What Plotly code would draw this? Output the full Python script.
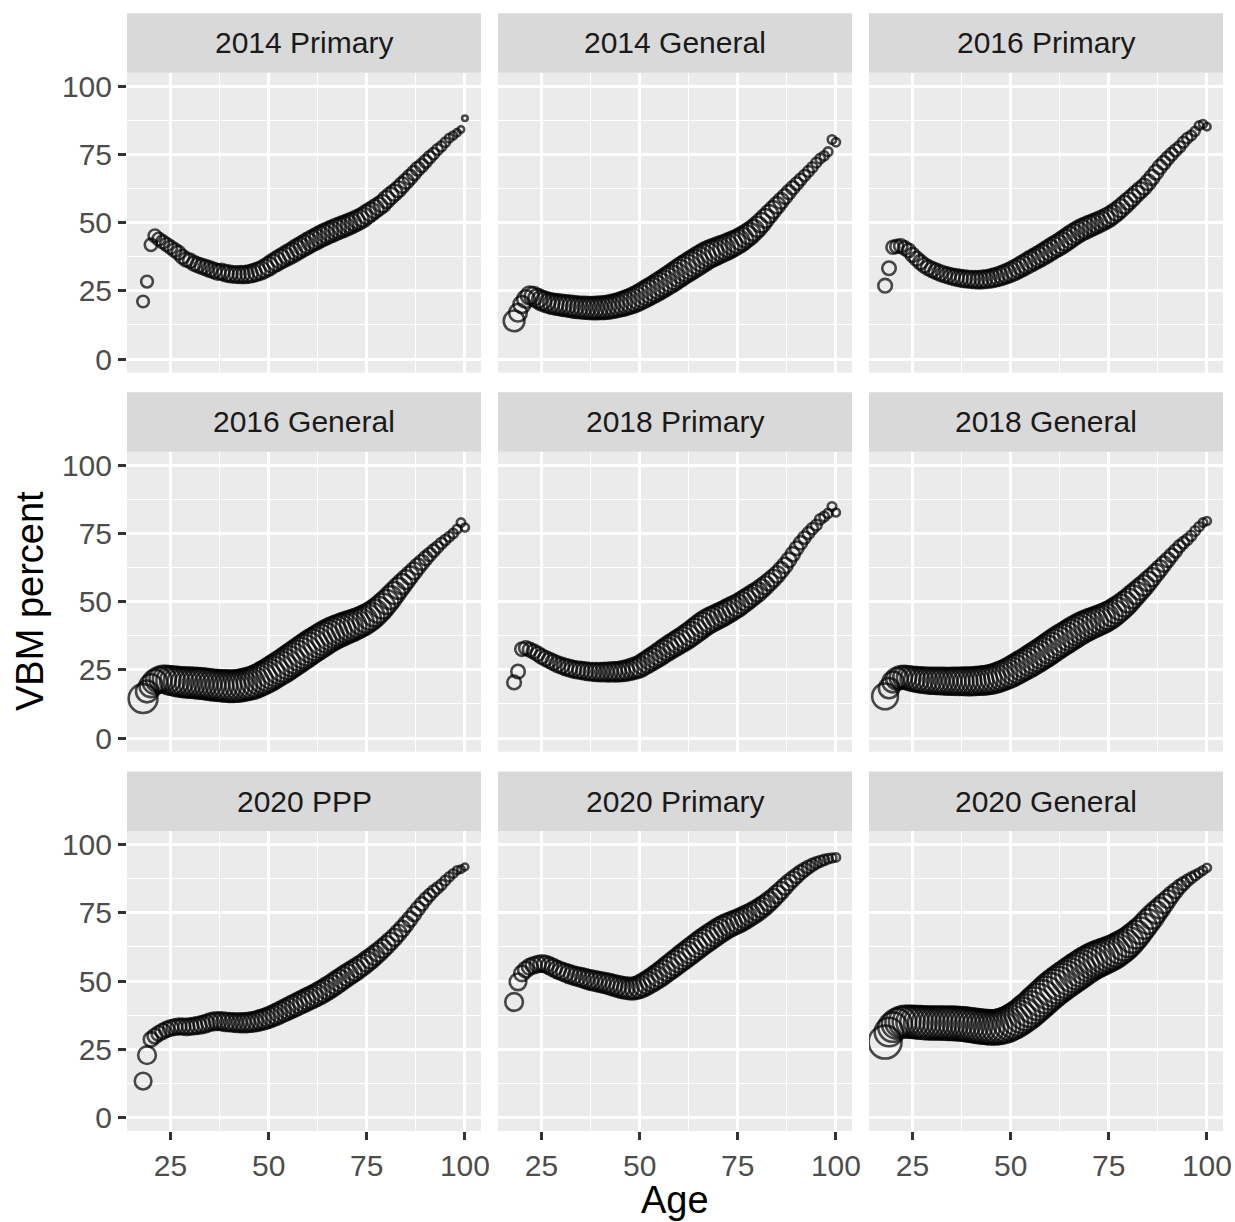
import math
import plotly.graph_objects as go

# ---------------------------------------------------------------------------
# Data: share of ballots cast by mail (VBM percent) by voter age, per election,
# plus ballots cast at each age (thousands) which drives the point size.
# ---------------------------------------------------------------------------
AGES = list(range(18, 101))

ELECTIONS = ["2014 Primary", "2014 General", "2016 Primary",
             "2016 General", "2018 Primary", "2018 General",
             "2020 PPP", "2020 Primary", "2020 General"]

vbm_2014_primary = [
    21.1, 28.4, 41.9, 45.2, 44.0, 43.0, 42.0,
    41.0, 40.0, 39.0, 37.5, 36.5, 36.0, 35.0, 34.5, 34.0, 33.5, 33.0,
    32.5, 32.0, 32.0, 31.5, 31.3, 31.0, 31.0, 31.0, 31.0, 31.2,
    31.5, 32.0, 32.5, 33.2, 34.0, 35.0, 35.8, 36.7, 37.5, 38.3,
    39.0, 40.0, 40.8, 41.6, 42.5, 43.3, 44.0, 44.8, 45.5, 46.2,
    46.8, 47.5, 48.0, 48.6, 49.2, 49.8, 50.5, 51.2, 52.0, 53.0,
    54.0, 55.0, 56.0, 57.0, 58.5, 59.8, 61.0, 62.3, 63.8, 65.2,
    66.7, 68.2, 69.8, 71.0, 72.5, 74.0, 75.3, 76.8, 78.0, 79.5,
    81.0, 82.0, 83.0, 84.2, 88.3]

vbm_2014_general = [
    14.0, 17.0, 20.0, 22.0, 23.3, 23.0, 22.2,
    21.5, 21.0, 20.5, 20.2, 20.0, 19.8, 19.6, 19.4, 19.2, 19.0, 18.9,
    18.8, 18.7, 18.7, 18.7, 18.8, 18.9, 19.0, 19.3, 19.6, 20.0,
    20.4, 20.9, 21.4, 22.0, 22.7, 23.5, 24.3, 25.1, 25.9, 26.8,
    27.7, 28.6, 29.5, 30.5, 31.5, 32.5, 33.4, 34.3, 35.2, 36.1,
    37.0, 37.9, 38.6, 39.2, 39.8, 40.4, 41.0, 41.7, 42.4, 43.1,
    44.0, 45.0, 46.0, 47.2, 48.5, 50.0, 51.6, 53.2, 54.8, 56.4,
    58.0, 59.6, 61.2, 62.8, 64.3, 65.8, 67.3, 68.8, 70.3, 72.0,
    73.5, 74.5, 76.0, 80.5, 79.5]

vbm_2016_primary = [
    26.9, 33.3, 41.0, 41.3, 41.5, 40.7, 39.8,
    38.2, 36.8, 35.5, 34.4, 33.5, 32.8, 32.2, 31.6, 31.1, 30.7, 30.3,
    30.0, 29.7, 29.5, 29.3, 29.2, 29.1, 29.1, 29.2, 29.3, 29.6,
    29.9, 30.3, 30.8, 31.3, 31.9, 32.6, 33.4, 34.2, 35.0, 35.8,
    36.6, 37.4, 38.2, 39.1, 40.0, 40.9, 41.7, 42.6, 43.6, 44.6,
    45.6, 46.5, 47.3, 48.0, 48.7, 49.3, 49.9, 50.6, 51.3, 52.1,
    53.0, 54.1, 55.3, 56.6, 57.9, 59.2, 60.6, 61.9, 63.2, 64.8,
    66.6, 68.5, 70.4, 72.0, 73.6, 75.1, 76.5, 77.8, 79.5, 81.0,
    82.0, 83.5, 85.6, 86.2, 85.2]

vbm_2016_general = [
    14.5, 17.1, 19.2, 20.6, 21.3, 21.6, 21.4,
    21.1, 20.9, 20.7, 20.5, 20.4, 20.3, 20.2, 20.1, 20.0, 19.8, 19.6,
    19.4, 19.3, 19.2, 19.1, 19.0, 19.0, 19.1, 19.3, 19.6, 19.9,
    20.3, 20.9, 21.6, 22.3, 23.1, 24.0, 24.9, 25.8, 26.7, 27.7,
    28.7, 29.7, 30.7, 31.7, 32.7, 33.7, 34.6, 35.5, 36.4, 37.3,
    38.1, 38.8, 39.4, 40.0, 40.6, 41.1, 41.7, 42.3, 43.0, 43.8,
    44.7, 45.8, 47.0, 48.4, 49.9, 51.5, 53.2, 54.9, 56.5, 58.1,
    59.7, 61.3, 62.9, 64.4, 65.9, 67.3, 68.7, 70.0, 71.4, 72.6,
    73.8, 75.0, 76.6, 79.0, 77.2]

vbm_2018_primary = [
    20.4, 24.4, 32.6, 33.0, 32.4, 31.7, 30.9,
    29.9, 29.2, 28.5, 27.8, 27.1, 26.6, 26.1, 25.7, 25.3, 25.0, 24.8,
    24.6, 24.4, 24.3, 24.2, 24.2, 24.2, 24.2, 24.3, 24.3, 24.4,
    24.6, 24.9, 25.3, 25.7, 26.2, 27.1, 28.0, 28.9, 29.8, 30.7,
    31.7, 32.7, 33.6, 34.5, 35.4, 36.3, 37.2, 38.2, 39.3, 40.4,
    41.5, 42.5, 43.3, 44.0, 44.7, 45.4, 46.2, 47.0, 47.8, 48.6,
    49.6, 50.6, 51.6, 52.6, 53.6, 54.8, 56.0, 57.3, 58.6, 60.0,
    61.6, 63.3, 65.3, 67.4, 69.6, 71.6, 73.5, 75.2, 76.8, 78.1,
    80.2, 81.2, 82.4, 84.9, 82.7]

vbm_2018_general = [
    15.3, 18.3, 20.6, 21.8, 22.3, 22.3, 22.0,
    21.7, 21.5, 21.3, 21.2, 21.1, 21.0, 21.0, 20.9, 20.9, 20.8, 20.8,
    20.8, 20.8, 20.8, 20.8, 20.8, 20.9, 21.0, 21.1, 21.3, 21.5,
    21.9, 22.4, 22.9, 23.5, 24.2, 25.0, 25.8, 26.6, 27.4, 28.3,
    29.2, 30.1, 31.0, 32.0, 33.0, 34.0, 35.0, 35.9, 36.8, 37.7,
    38.6, 39.5, 40.3, 41.0, 41.7, 42.3, 42.9, 43.5, 44.2, 44.9,
    45.8, 46.8, 47.9, 49.1, 50.4, 51.8, 53.2, 54.6, 56.0, 57.5,
    59.0, 60.6, 62.2, 63.8, 65.4, 67.0, 68.6, 70.3, 71.6, 72.8,
    74.2, 75.9, 77.5, 79.0, 79.6]

vbm_2020_ppp = [
    13.3, 22.8, 28.6, 29.8, 30.8, 31.6, 32.3,
    32.8, 33.1, 33.3, 33.3, 33.2, 33.3, 33.5, 33.7, 34.0, 34.4, 34.9,
    35.2, 35.3, 35.2, 35.0, 34.9, 34.8, 34.7, 34.7, 34.7, 34.8,
    35.0, 35.3, 35.7, 36.1, 36.6, 37.2, 37.8, 38.5, 39.2, 39.9,
    40.6, 41.3, 42.0, 42.7, 43.4, 44.1, 44.8, 45.6, 46.4, 47.3,
    48.2, 49.2, 50.2, 51.2, 52.2, 53.1, 54.0, 55.0, 56.0, 57.1,
    58.2, 59.4, 60.6, 61.9, 63.2, 64.6, 66.0, 67.6, 69.2, 70.9,
    72.7, 74.6, 76.5, 78.3, 80.0, 81.5, 82.9, 84.1, 85.3, 86.8,
    88.2, 89.4, 90.6, 91.0, 91.8]

vbm_2020_primary = [
    42.3, 49.7, 52.8, 54.2, 55.2, 55.8, 56.2,
    56.4, 56.2, 55.6, 54.9, 54.2, 53.6, 53.1, 52.6, 52.1, 51.7, 51.3,
    50.9, 50.5, 50.2, 49.9, 49.6, 49.3, 49.0, 48.6, 48.2, 47.8,
    47.5, 47.3, 47.2, 47.4, 47.9, 48.6, 49.4, 50.3, 51.2, 52.2,
    53.3, 54.4, 55.5, 56.6, 57.7, 58.8, 59.9, 61.0, 62.1, 63.2,
    64.3, 65.3, 66.3, 67.3, 68.3, 69.2, 70.0, 70.7, 71.3, 71.9,
    72.6, 73.4, 74.2, 75.0, 75.9, 76.9, 78.0, 79.2, 80.4, 81.8,
    83.2, 84.7, 86.1, 87.4, 88.6, 89.8, 90.8, 91.8, 92.6, 93.3,
    93.9, 94.4, 94.8, 95.1, 95.3]

vbm_2020_general = [
    27.6, 31.3, 33.1, 34.3, 34.9, 35.1, 35.1,
    35.0, 34.9, 34.8, 34.7, 34.6, 34.6, 34.6, 34.6, 34.6, 34.5, 34.5,
    34.4, 34.3, 34.2, 34.0, 33.8, 33.6, 33.4, 33.2, 33.1, 33.0,
    33.0, 33.2, 33.5, 34.0, 34.7, 35.5, 36.4, 37.4, 38.5, 39.7,
    41.0, 42.3, 43.6, 44.9, 46.2, 47.4, 48.5, 49.6, 50.6, 51.6,
    52.6, 53.6, 54.6, 55.6, 56.5, 57.3, 58.0, 58.6, 59.2, 59.8,
    60.5, 61.3, 62.2, 63.2, 64.3, 65.6, 67.0, 68.5, 70.1, 71.8,
    73.5, 75.2, 76.8, 78.4, 80.0, 81.6, 83.1, 84.5, 85.7, 86.8,
    87.8, 88.7, 89.6, 90.5, 91.5]

ballots_2014_primary = [
    5.2, 5.5, 6.2, 6.6, 6.8, 7.0, 7.2,
    7.5, 7.8, 8.1, 8.4, 8.7, 9.0, 9.4, 9.8, 10.2, 10.6, 11.0,
    11.4, 11.8, 12.2, 12.6, 13.0, 13.4, 13.8, 14.2, 14.6, 15.0,
    15.5, 16.0, 16.5, 17.0, 17.5, 18.0, 18.5, 19.0, 19.5, 20.0,
    20.5, 21.0, 21.4, 21.8, 22.2, 22.5, 22.8, 23.0, 23.2, 23.3,
    23.3, 23.2, 23.0, 22.6, 22.0, 21.4, 20.7, 20.0, 19.2, 18.4,
    17.6, 16.8, 16.0, 15.2, 14.4, 13.6, 12.8, 12.0, 11.2, 10.4,
    9.6, 8.8, 8.0, 7.2, 6.4, 5.6, 4.8, 4.0, 3.3, 2.7,
    2.1, 1.6, 1.1, 0.7, 0.35]

ballots_2014_general = [
    23.6, 16.0, 14.5, 15.5, 16.5, 17.5, 18.5,
    19.5, 20.5, 21.3, 22.0, 22.7, 23.3, 23.9, 24.5, 25.0, 25.5, 26.0,
    26.5, 27.0, 27.5, 28.0, 28.6, 29.2, 29.8, 30.5, 31.2, 32.0,
    32.8, 33.6, 34.4, 35.2, 36.0, 36.8, 37.6, 38.4, 39.2, 40.0,
    40.7, 41.4, 42.0, 42.5, 43.0, 43.3, 43.5, 43.6, 43.6, 43.4,
    43.0, 42.4, 41.6, 40.6, 39.5, 38.2, 36.8, 35.2, 33.5, 31.7,
    29.8, 27.8, 25.8, 23.8, 21.8, 19.8, 17.9, 16.1, 14.4, 12.8,
    11.3, 9.9, 8.6, 7.4, 6.3, 5.3, 4.6, 4.0, 3.5, 3.1,
    2.8, 2.5, 2.2, 2.0, 1.8]

ballots_2016_primary = [
    8.2, 8.0, 7.2, 7.4, 7.6, 7.8, 8.0,
    8.4, 8.8, 9.2, 9.6, 10.0, 10.4, 10.8, 11.2, 11.6, 12.0, 12.4,
    12.8, 13.2, 13.6, 14.0, 14.4, 14.8, 15.2, 15.7, 16.2, 16.7,
    17.2, 17.7, 18.2, 18.7, 19.2, 19.7, 20.2, 20.7, 21.2, 21.7,
    22.2, 22.6, 23.0, 23.4, 23.7, 24.0, 24.2, 24.3, 24.4, 24.4,
    24.3, 24.1, 23.8, 23.4, 22.9, 22.3, 21.6, 20.8, 20.0, 19.2,
    18.4, 17.6, 16.8, 16.0, 15.2, 14.4, 13.6, 12.8, 12.0, 11.2,
    10.4, 9.6, 8.8, 8.0, 7.2, 6.4, 5.6, 4.9, 4.2, 3.6,
    3.0, 2.5, 2.0, 1.6, 1.2]

ballots_2016_general = [
    51.0, 27.0, 30.0, 34.0, 38.0, 42.0, 46.0,
    49.0, 51.0, 53.0, 54.0, 55.0, 56.0, 56.5, 57.0, 57.5, 58.0, 58.5,
    59.0, 59.5, 60.0, 60.5, 61.0, 61.5, 62.0, 62.5, 63.0, 63.5,
    64.0, 64.5, 65.0, 65.5, 66.0, 66.5, 67.0, 67.5, 68.0, 68.5,
    69.0, 69.2, 69.4, 69.5, 69.5, 69.3, 69.0, 68.5, 67.8, 67.0,
    66.0, 64.8, 63.4, 61.8, 60.0, 58.0, 55.8, 53.4, 50.8, 48.0,
    45.0, 42.0, 39.0, 36.0, 33.0, 30.0, 27.0, 24.0, 21.2, 18.6,
    16.2, 14.0, 12.0, 10.2, 8.6, 7.2, 6.0, 5.0, 4.2, 3.5,
    3.0, 2.6, 2.2, 1.9, 1.6]

ballots_2018_primary = [
    8.2, 8.0, 7.8, 8.0, 8.3, 8.6, 9.0,
    9.5, 10.0, 10.5, 11.0, 11.5, 12.0, 12.5, 13.0, 13.5, 14.0, 14.5,
    15.0, 15.5, 16.0, 16.5, 17.0, 17.6, 18.2, 18.8, 19.5, 20.2,
    21.0, 21.8, 22.6, 23.4, 24.2, 25.0, 25.8, 26.6, 27.4, 28.2,
    29.0, 29.8, 30.6, 31.3, 32.0, 32.6, 33.2, 33.7, 34.1, 34.4,
    34.6, 34.6, 34.4, 34.0, 33.4, 32.6, 31.6, 30.4, 29.0, 27.5,
    26.0, 24.5, 23.0, 21.5, 20.0, 18.6, 17.2, 15.9, 14.6, 13.4,
    12.2, 11.1, 10.0, 9.0, 8.0, 7.1, 6.2, 5.4, 4.7, 4.0,
    3.4, 2.9, 2.4, 2.0, 1.6]

ballots_2018_general = [
    39.5, 22.0, 24.0, 26.0, 28.0, 30.0, 32.0,
    34.0, 35.5, 37.0, 38.0, 39.0, 40.0, 40.8, 41.5, 42.2, 42.9, 43.5,
    44.1, 44.7, 45.3, 45.9, 46.5, 47.1, 47.8, 48.5, 49.2, 50.0,
    50.8, 51.6, 52.4, 53.2, 54.0, 54.8, 55.6, 56.3, 57.0, 57.6,
    58.2, 58.7, 59.2, 59.6, 60.0, 60.2, 60.3, 60.3, 60.1, 59.8,
    59.3, 58.6, 57.7, 56.6, 55.3, 53.8, 52.1, 50.2, 48.1, 45.8,
    43.3, 40.7, 38.0, 35.3, 32.6, 29.9, 27.2, 24.6, 22.1, 19.7,
    17.4, 15.2, 13.2, 11.3, 9.6, 8.1, 6.8, 5.7, 4.8, 4.0,
    3.4, 2.9, 2.4, 2.0, 1.6]

ballots_2020_ppp = [
    13.8, 16.0, 9.5, 9.7, 10.0, 10.4, 10.8,
    11.2, 11.6, 12.0, 12.4, 12.8, 13.2, 13.6, 14.0, 14.4, 14.8, 15.2,
    15.6, 16.0, 16.4, 16.8, 17.2, 17.6, 18.0, 18.5, 19.0, 19.5,
    20.0, 20.5, 21.0, 21.5, 22.0, 22.5, 23.0, 23.5, 24.0, 24.5,
    25.0, 25.4, 25.8, 26.1, 26.4, 26.6, 26.8, 26.9, 27.0, 27.0,
    26.9, 26.7, 26.4, 26.0, 25.5, 24.9, 24.2, 23.4, 22.5, 21.5,
    20.5, 19.5, 18.5, 17.5, 16.5, 15.5, 14.5, 13.5, 12.5, 11.5,
    10.5, 9.5, 8.5, 7.6, 6.7, 5.8, 5.0, 4.3, 3.6, 3.0,
    2.5, 2.0, 1.6, 1.2, 0.9]

ballots_2020_primary = [
    16.0, 13.8, 11.5, 11.8, 12.1, 12.4, 12.8,
    13.2, 13.6, 14.0, 14.5, 15.0, 15.5, 16.0, 16.5, 17.0, 17.5, 18.0,
    18.5, 19.0, 19.5, 20.0, 20.5, 21.0, 21.6, 22.2, 22.8, 23.5,
    24.2, 25.0, 25.8, 26.6, 27.4, 28.2, 29.0, 29.8, 30.6, 31.4,
    32.2, 33.0, 33.7, 34.4, 35.0, 35.5, 35.9, 36.2, 36.4, 36.5,
    36.5, 36.3, 36.0, 35.6, 35.0, 34.2, 33.3, 32.3, 31.2, 30.0,
    28.7, 27.3, 25.9, 24.5, 23.1, 21.7, 20.3, 18.9, 17.5, 16.1,
    14.8, 13.5, 12.2, 11.0, 9.8, 8.7, 7.6, 6.6, 5.7, 4.9,
    4.1, 3.4, 2.8, 2.3, 1.8]

ballots_2020_general = [
    68.7, 50.0, 53.0, 56.0, 59.0, 62.0, 64.0,
    65.5, 66.5, 67.2, 67.8, 68.3, 68.7, 69.0, 69.3, 69.6, 69.9, 70.2,
    70.5, 70.8, 71.2, 71.6, 72.0, 72.5, 73.0, 73.6, 74.2, 74.9,
    75.6, 76.4, 77.2, 78.0, 78.8, 79.6, 80.4, 81.2, 82.0, 82.8,
    83.6, 84.4, 85.1, 85.8, 86.4, 86.9, 87.3, 87.6, 87.8, 87.8,
    87.6, 87.2, 86.6, 85.8, 84.7, 83.4, 81.8, 80.0, 77.9, 75.6,
    72.5, 69.0, 65.0, 60.5, 55.5, 50.5, 45.5, 41.0, 37.0, 34.5,
    32.0, 27.5, 23.3, 19.5, 16.1, 13.1, 10.5, 8.3, 6.5, 5.0,
    3.9, 3.0, 2.4, 2.0, 1.7]

VBM = [vbm_2014_primary, vbm_2014_general, vbm_2016_primary,
       vbm_2016_general, vbm_2018_primary, vbm_2018_general,
       vbm_2020_ppp, vbm_2020_primary, vbm_2020_general]
BALLOTS = [ballots_2014_primary, ballots_2014_general, ballots_2016_primary,
           ballots_2016_general, ballots_2018_primary, ballots_2018_general,
           ballots_2020_ppp, ballots_2020_primary, ballots_2020_general]

X_TICKS = [25, 50, 75, 100]
Y_TICKS = [0, 25, 50, 75, 100]

# ---------------------------------------------------------------------------
# Scales and layout geometry (pixels)
# ---------------------------------------------------------------------------
W, H = 1235, 1222
FONT = "Liberation Sans, Arial, Helvetica, sans-serif"
TICK_FONT = 30
STRIP_FONT = 30
TITLE_FONT = 38

# area-proportional size scale (diameter in px)
SIZE_LO, SIZE_HI, SIZE_LIMIT = 3.5, 39.0, 100.0


def point_size(n):
    return SIZE_LO + (SIZE_HI - SIZE_LO) * math.sqrt(n / SIZE_LIMIT)


# 5% expansion around the age range, fixed 0-100 y limits expanded by 5%
x_span = AGES[-1] - AGES[0]
X_RANGE = [AGES[0] - 0.05 * x_span, AGES[-1] + 0.05 * x_span]
Y_RANGE = [-5, 105]

COL_LEFT = [127, 498, 869]
PANEL_W = 354
ROW_TOP = [72.7, 451.7, 831.0]
PANEL_H = 300
STRIP_H = 59.5


def fx(px):
    return px / W


def fy(py):
    return 1 - py / H


fig = go.Figure()
shapes = []
annotations = []
layout_axes = {}

for i, (name, vbm, ballots) in enumerate(zip(ELECTIONS, VBM, BALLOTS)):
    r, c = divmod(i, 3)
    k = "" if i == 0 else str(i + 1)
    x0, x1 = COL_LEFT[c], COL_LEFT[c] + PANEL_W
    y0, y1 = ROW_TOP[r], ROW_TOP[r] + PANEL_H

    fig.add_trace(go.Scatter(
        x=AGES, y=vbm, mode="markers",
        xaxis="x" + k, yaxis="y" + k,
        marker=dict(symbol="circle-open", color="black",
                    size=[point_size(n) for n in ballots],
                    line=dict(width=2.6, color="black")),
        showlegend=False, hoverinfo="x+y",
    ))

    bottom = r == 2
    left = c == 0
    layout_axes["xaxis" + k] = dict(
        domain=[fx(x0), fx(x1)], anchor="y" + k, range=X_RANGE,
        tickmode="array", tickvals=X_TICKS,
        showticklabels=bottom, ticks="outside" if bottom else "",
        ticklen=8, tickwidth=2.8, tickcolor="#333333",
        tickfont=dict(size=TICK_FONT, color="#4D4D4D", family=FONT),
        showgrid=True, gridcolor="white", gridwidth=2.8,
        minor=dict(tickvals=[37.5, 62.5, 87.5], showgrid=True,
                   gridcolor="white", gridwidth=1.4, ticks=""),
        zeroline=False, showline=False, fixedrange=True, automargin=False,
    )
    layout_axes["yaxis" + k] = dict(
        domain=[fy(y1), fy(y0)], anchor="x" + k, range=Y_RANGE,
        tickmode="array", tickvals=Y_TICKS,
        showticklabels=left, ticks="outside" if left else "",
        ticklen=8, tickwidth=2.8, tickcolor="#333333",
        tickfont=dict(size=TICK_FONT, color="#4D4D4D", family=FONT),
        showgrid=True, gridcolor="white", gridwidth=2.8,
        minor=dict(tickvals=[12.5, 37.5, 62.5, 87.5], showgrid=True,
                   gridcolor="white", gridwidth=1.4, ticks=""),
        zeroline=False, showline=False, fixedrange=True, automargin=False,
    )

    # facet strip
    shapes.append(dict(type="rect", xref="paper", yref="paper",
                       x0=fx(x0), x1=fx(x1), y0=fy(y0), y1=fy(y0 - STRIP_H),
                       fillcolor="#D9D9D9", line=dict(width=0), layer="below"))
    annotations.append(dict(text=name, xref="paper", yref="paper",
                            x=fx((x0 + x1) / 2), y=fy(y0 - STRIP_H / 2),
                            xanchor="center", yanchor="middle", showarrow=False,
                            font=dict(size=STRIP_FONT, color="#1A1A1A",
                                      family=FONT)))

# axis titles
annotations.append(dict(text="Age", xref="paper", yref="paper",
                        x=fx((COL_LEFT[0] + COL_LEFT[2] + PANEL_W) / 2),
                        y=fy(1200), xanchor="center", yanchor="middle",
                        showarrow=False,
                        font=dict(size=TITLE_FONT, color="black", family=FONT)))
annotations.append(dict(text="VBM percent", xref="paper", yref="paper",
                        x=fx(30), y=fy(601), textangle=-90,
                        xanchor="center", yanchor="middle", showarrow=False,
                        font=dict(size=TITLE_FONT, color="black", family=FONT)))

fig.update_layout(
    width=W, height=H, autosize=False,
    margin=dict(l=0, r=0, t=0, b=0, autoexpand=False),
    paper_bgcolor="white", plot_bgcolor="#EBEBEB",
    font=dict(family=FONT),
    shapes=shapes, annotations=annotations,
    **layout_axes,
)

fig.write_html("out.html")
